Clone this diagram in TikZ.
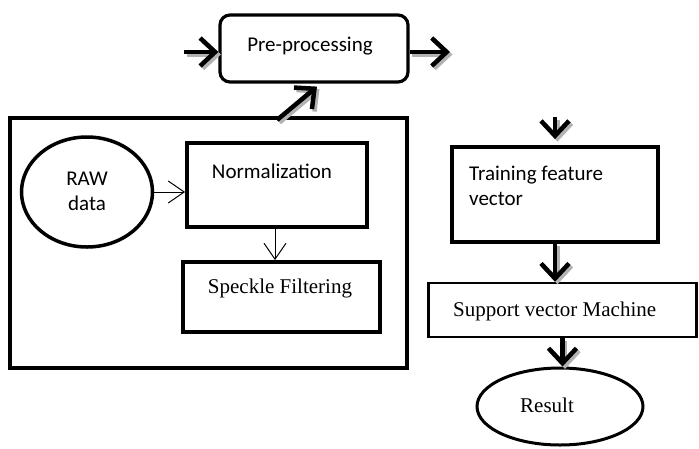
\documentclass[tikz,border=0pt]{standalone}
\usepackage{fontspec}
\usetikzlibrary{arrows.meta,shapes.geometric,calc}
\newfontfamily\calfont{Carlito}
\newfontfamily\tmsfont{Liberation Serif}
\begin{document}
\begin{tikzpicture}[x=1pt,y=-1pt,
  box/.style={draw, rectangle, line width=3.8pt, inner sep=0pt},
  oval/.style={draw, ellipse, inner sep=0pt},
  txt/.style={inner sep=0pt, font=\fontsize{21}{25}\selectfont},
  bigarrow/.style={line width=4.5pt, -{Straight Barb[length=15pt,width=28pt,line width=4.5pt]}},
  shadowarrow/.style={bigarrow, draw=gray!60, transform canvas={shift={(2.5pt,-2.5pt)}}},
  thinarrow/.style={line width=1pt, -{Straight Barb[length=16pt,width=22pt,line width=1pt]}}
]
\useasboundingbox (0,0) rectangle (699,448);
% boxes
\node[box, rounded corners=10pt, line width=3.2pt, minimum width=188pt, minimum height=67pt] (pre) at (314,48.5) {};
\node[txt, font=\calfont\fontsize{21}{25}\selectfont] (pretxt) at (310,46) {Pre-processing};
\node[box, minimum width=397pt, minimum height=250pt] (big) at (208.5,243) {};
\node[oval, line width=3.5pt, minimum width=131pt, minimum height=110pt] (raw) at (87,192) {};
\node[txt, font=\calfont\fontsize{21}{25}\selectfont, align=center] (rawtxt) at (87,191) {RAW\\data};
\node[box, minimum width=180pt, minimum height=84pt] (norm) at (277,185) {};
\node[txt, font=\calfont\fontsize{21}{25}\selectfont] (normtxt) at (272,171) {Normalization};
\node[box, minimum width=197pt, minimum height=70pt] (speck) at (281.5,297) {};
\node[txt, font=\tmsfont\fontsize{21}{25}\selectfont] (specktxt) at (280,288) {Speckle Filtering};
\node[box, minimum width=206pt, minimum height=95pt] (train) at (555,194.5) {};
\node[txt, font=\calfont\fontsize{21}{25}\selectfont, align=left, anchor=west] (traintxt) at (469,186) {Training feature\\vector};
\node[box, line width=2.5pt, minimum width=268pt, minimum height=54pt] (svm) at (562.5,310) {};
\node[txt, font=\tmsfont\fontsize{21}{25}\selectfont, anchor=west] (svmtxt) at (453,311) {Support vector Machine};
\node[oval, line width=3pt, minimum width=166pt, minimum height=77pt] (res) at (560,406.5) {};
\node[txt, font=\tmsfont\fontsize{21}{25}\selectfont] (restxt) at (547,405) {Result};
% free ends and helper points
\coordinate (pin) at (184,52);
\coordinate (pout) at (450,52);
\coordinate (dstart) at (277,120);
\coordinate (tin) at (555,117);
\coordinate (dend) at ($(pre.south)+(3,3)$);
\coordinate (ns) at ($(norm.south)+(-2,0)$);
% thick arrows: shadows
\draw[shadowarrow] (pin) -- (pin -| pre.west);
\draw[shadowarrow] (pout -| pre.east) -- (pout);
\draw[shadowarrow] (dstart) -- (dend);
\draw[shadowarrow, shorten >=6pt] (tin) -- (train.north);
\draw[shadowarrow] (train.south) -- (train.south |- svm.north);
\draw[shadowarrow] (svm.south) -- (svm.south |- res.north);
% thick arrows
\draw[bigarrow] (pin) -- (pin -| pre.west);
\draw[bigarrow] (pout -| pre.east) -- (pout);
\draw[bigarrow] (dstart) -- (dend);
\draw[bigarrow, shorten >=6pt] (tin) -- (train.north);
\draw[bigarrow] (train.south) -- (train.south |- svm.north);
\draw[bigarrow] (svm.south) -- (svm.south |- res.north);
% thin arrows
\draw[thinarrow] (raw.east) -- (raw.east -| norm.west);
\draw[thinarrow] (ns) -- (ns |- speck.north);
\end{tikzpicture}
\end{document}
